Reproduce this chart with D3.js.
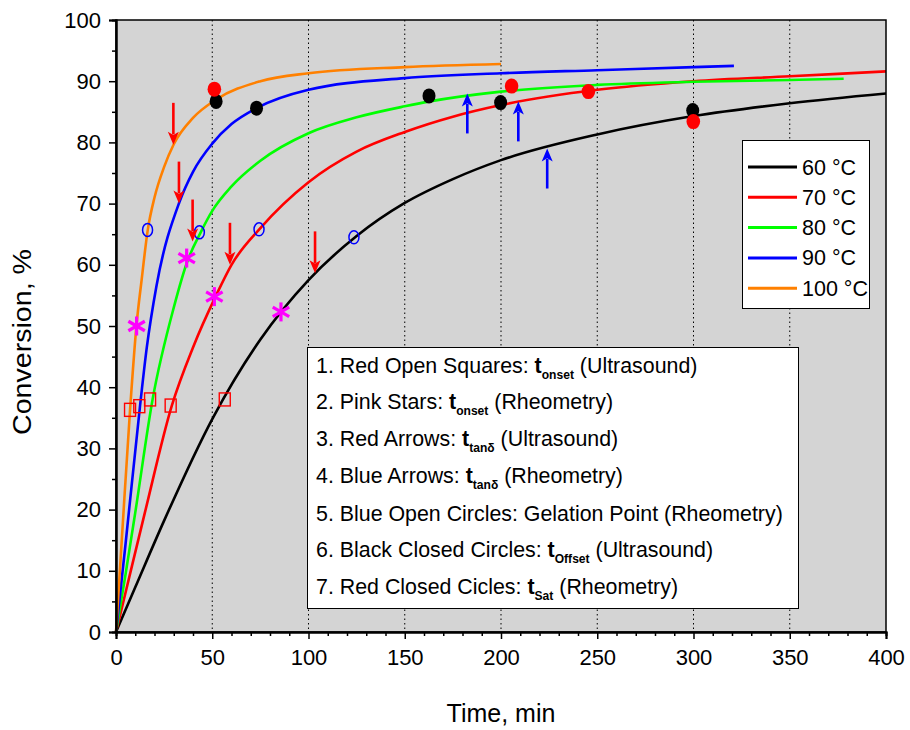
<!DOCTYPE html>
<html><head><meta charset="utf-8">
<script src="https://cdn.jsdelivr.net/npm/d3@7"></script>
<style>
body{margin:0;background:#fff;}
svg text{font-family:"Liberation Sans", Arial, Helvetica, sans-serif;fill:#000;}
</style>
</head><body>
<svg id="chart" width="910" height="730"></svg>
<script>
// ---------- DATA ----------
const seriesNames  = ["60 °C", "70 °C", "80 °C", "90 °C", "100 °C"];
const seriesColors = ["#000000", "#ff0000", "#00ff00", "#0000ff", "#ff8000"];

const time60 = [0, 10, 25, 50, 75, 100, 125, 150, 175, 200, 250, 300, 350, 400];
const conv60 = [0, 7.3, 18.2, 34.8, 47.8, 57.5, 64.7, 70.1, 74.0, 77.1, 81.3, 84.3, 86.4, 88.0];

const time70 = [0, 5, 15, 29, 40, 52, 60, 75, 100, 125, 150, 175, 200, 250, 300, 350, 400];
const conv70 = [0, 6.5, 19.5, 37, 46.5, 55, 60, 66, 73.5, 78.5, 81.7, 84.2, 86.1, 88.6, 90.0, 90.8, 91.6];

const time80 = [0, 5, 10, 19, 30, 37, 44, 50, 60, 75, 100, 125, 150, 163, 200, 250, 300, 350, 378];
const conv80 = [0, 9.5, 19.5, 38, 53, 60.5, 65.3, 68.8, 72.8, 77.0, 81.5, 84.1, 85.9, 86.7, 88.3, 89.4, 89.9, 90.2, 90.4];

const time90 = [0, 5, 12.5, 16, 21, 33, 40, 50, 60, 73, 100, 150, 200, 250, 300, 321];
const conv90 = [0, 14.5, 37, 46.5, 56.5, 70.3, 75.2, 79.8, 83.0, 85.6, 88.6, 90.5, 91.3, 91.8, 92.3, 92.5];

const time100 = [0, 3, 7.3, 10.7, 13.3, 16.5, 20, 25, 30, 40, 52, 75, 100, 150, 200];
const conv100 = [0, 15, 36.3, 50.3, 57.5, 65.7, 71, 76, 79.7, 84, 87, 90, 91.3, 92.3, 92.8];

// markers
const squareT = [7.3, 12.1, 17.7, 28.4, 56.5];          // red open squares
const squareV = [36.3, 36.9, 38.0, 37.0, 38.0];
const starT = [10.7, 36.7, 51.1, 85.7];                 // pink stars
const starV = [50.0, 61.1, 54.8, 52.3];
const redArrowT = [29.8, 32.7, 39.8, 59.2, 103.4];      // red arrows (tip)
const redArrowV = [79.6, 70.0, 63.8, 60.0, 58.6];
const blueArrowT = [182.5, 209, 224];                   // blue arrows (tip)
const blueArrowV = [88.0, 86.7, 79.0];
const gelT = [16.4, 43.3, 74.3, 123.6];                 // blue open circles
const gelV = [65.7, 65.3, 65.8, 64.5];
const offsetT = [52, 73, 162.6, 199.8, 299.6];          // black closed circles
const offsetV = [86.7, 85.6, 87.6, 86.5, 85.2];
const satT = [51.1, 205.5, 245.4, 299.9];               // red closed circles
const satV = [88.7, 89.2, 88.3, 83.4];

const xTicks = [0, 50, 100, 150, 200, 250, 300, 350, 400];
const yTicks = [0, 10, 20, 30, 40, 50, 60, 70, 80, 90, 100];

const noteRows = [
  ["1. Red Open Squares: ", "onset", " (Ultrasound)"],
  ["2. Pink Stars: ", "onset", " (Rheometry)"],
  ["3. Red Arrows: ", "tanδ", " (Ultrasound)"],
  ["4. Blue Arrows: ", "tanδ", " (Rheometry)"],
  ["5. Blue Open Circles: Gelation Point (Rheometry)"],
  ["6. Black Closed Circles: ", "Offset", " (Ultrasound)"],
  ["7. Red Closed Cicles: ", "Sat", " (Rheometry)"]
];

// ---------- LAYOUT ----------
const L = 116, T = 20, W = 770, H = 612;
const svg = d3.select("#chart");
const x = d3.scaleLinear().domain([0, 400]).range([L, L + W]);
const y = d3.scaleLinear().domain([0, 100]).range([T + H, T]);

svg.append("rect").attr("x", L).attr("y", T).attr("width", W).attr("height", H).attr("fill", "#d4d4d4");

// vertical dotted grid
svg.append("g").selectAll("line").data(xTicks.filter(d => d > 0 && d < 400)).join("line")
  .attr("x1", d => x(d)).attr("x2", d => x(d)).attr("y1", T).attr("y2", T + H)
  .attr("stroke", "#000").attr("stroke-width", 1).attr("stroke-dasharray", "1.5,3");

// curves
const series = [
  [time60, conv60], [time70, conv70], [time80, conv80], [time90, conv90], [time100, conv100]
];
const line = d3.line().x(d => x(d[0])).y(d => y(d[1])).curve(d3.curveMonotoneX);
series.forEach((s, i) => {
  const pts = s[0].map((t, k) => [t, s[1][k]]);
  svg.append("path").attr("d", line(pts)).attr("fill", "none")
    .attr("stroke", seriesColors[i]).attr("stroke-width", 2.6).attr("stroke-linejoin", "round");
});

// red open squares
svg.append("g").selectAll("rect").data(squareT.map((t, i) => [t, squareV[i]])).join("rect")
  .attr("x", d => x(d[0]) - 5.5).attr("y", d => y(d[1]) - 6.5).attr("width", 11).attr("height", 13)
  .attr("fill", "none").attr("stroke", "#ff0000").attr("stroke-width", 1.4);

// blue open circles
svg.append("g").selectAll("ellipse").data(gelT.map((t, i) => [t, gelV[i]])).join("ellipse")
  .attr("cx", d => x(d[0])).attr("cy", d => y(d[1])).attr("rx", 5).attr("ry", 6.5)
  .attr("fill", "none").attr("stroke", "#0000ff").attr("stroke-width", 1.5);

// pink stars
const starG = svg.append("g");
starT.forEach((t, i) => {
  const cx = x(t), cy = y(starV[i]), r = 9.5;
  [90, 30, 150].forEach(a => {
    const rad = a * Math.PI / 180;
    starG.append("line").attr("x1", cx - r * Math.cos(rad)).attr("y1", cy - r * Math.sin(rad))
      .attr("x2", cx + r * Math.cos(rad)).attr("y2", cy + r * Math.sin(rad))
      .attr("stroke", "#ff00ff").attr("stroke-width", 3.2);
  });
});

// black closed circles
svg.append("g").selectAll("ellipse").data(offsetT.map((t, i) => [t, offsetV[i]])).join("ellipse")
  .attr("cx", d => x(d[0])).attr("cy", d => y(d[1])).attr("rx", 6.5).attr("ry", 7.5).attr("fill", "#000");
// red closed circles
svg.append("g").selectAll("ellipse").data(satT.map((t, i) => [t, satV[i]])).join("ellipse")
  .attr("cx", d => x(d[0])).attr("cy", d => y(d[1])).attr("rx", 6.8).attr("ry", 7.5).attr("fill", "#ff0000");

// arrows
function arrow(g, tx, ty, dir, len, color) {
  // dir = +1 : pointing down (tail above), -1 : pointing up (tail below)
  const headL = 13, headW = 5.5;
  g.append("line").attr("x1", tx).attr("y1", ty - dir * len).attr("x2", tx).attr("y2", ty - dir * headL * 0.8)
    .attr("stroke", color).attr("stroke-width", 2.6);
  g.append("path").attr("d", `M${tx},${ty} L${tx - headW},${ty - dir * headL} L${tx},${ty - dir * headL * 0.75} L${tx + headW},${ty - dir * headL} Z`)
    .attr("fill", color);
}
const arrG = svg.append("g");
redArrowT.forEach((t, i) => arrow(arrG, x(t), y(redArrowV[i]), 1, 42, "#ff0000"));
blueArrowT.forEach((t, i) => arrow(arrG, x(t), y(blueArrowV[i]), -1, 40, "#0000ff"));

// legend
const lg = svg.append("g");
lg.append("rect").attr("x", 742.5).attr("y", 140.5).attr("width", 127).attr("height", 168)
  .attr("fill", "#fff").attr("stroke", "#000").attr("stroke-width", 1);
seriesNames.forEach((n, i) => {
  const yy = 167 + i * 30.3;
  lg.append("line").attr("x1", 748).attr("x2", 797).attr("y1", yy).attr("y2", yy)
    .attr("stroke", seriesColors[i]).attr("stroke-width", 3);
  lg.append("text").attr("x", 802).attr("y", yy + 7.5).attr("font-size", 21.5).text(n);
});

// annotation box
const nb = svg.append("g");
nb.append("rect").attr("x", 307.5).attr("y", 347.5).attr("width", 491).attr("height", 261)
  .attr("fill", "#fff").attr("stroke", "#000").attr("stroke-width", 1);
const baselines = [373, 409, 446, 483, 521, 557, 594];
noteRows.forEach((r, i) => {
  const t = nb.append("text").attr("transform", `translate(316,${baselines[i]}) scale(0.93,1)`)
    .attr("font-size", 23);
  t.append("tspan").text(r[0]);
  if (r.length > 1) {
    t.append("tspan").attr("font-weight", "bold").text("t");
    t.append("tspan").attr("font-weight", "bold").attr("font-size", 13).attr("dy", 6).text(r[1]);
    t.append("tspan").attr("dy", -6).text(r[2]);
  }
});

// frame
svg.append("rect").attr("x", L).attr("y", T).attr("width", W).attr("height", H)
  .attr("fill", "none").attr("stroke", "#000").attr("stroke-width", 1.5);

// axes
const yAxis = svg.append("g").attr("transform", `translate(${L},0)`)
  .call(d3.axisLeft(y).tickValues(yTicks).tickSize(7).tickPadding(8).tickFormat(d3.format("d")));
svg.append("g").attr("transform", `translate(${L},0)`)
  .call(d3.axisLeft(y).tickValues(d3.range(5, 100, 10)).tickSize(4).tickFormat(""));
const xAxis = svg.append("g").attr("transform", `translate(0,${T + H})`)
  .call(d3.axisBottom(x).tickValues(xTicks).tickSize(7).tickPadding(10).tickFormat(d3.format("d")));
svg.append("g").attr("transform", `translate(0,${T + H})`)
  .call(d3.axisBottom(x).tickValues(d3.range(10, 400, 10).filter(d => d % 50 !== 0)).tickSize(4).tickFormat(""));
svg.selectAll(".domain").attr("stroke-width", 2);
svg.selectAll(".tick line").attr("stroke-width", 1.5);
yAxis.selectAll("text").attr("font-size", 22).attr("font-family", null);
xAxis.selectAll("text").attr("font-size", 22).attr("font-family", null);

// axis titles
svg.append("text").attr("x", x(200)).attr("y", 722).attr("text-anchor", "middle").attr("font-size", 25).text("Time, min");
svg.append("text").attr("transform", "translate(31,342) rotate(-90)").attr("text-anchor", "middle")
  .attr("font-size", 25).attr("textLength", 186).attr("lengthAdjust", "spacingAndGlyphs").text("Conversion, %");
</script>
</body></html>
